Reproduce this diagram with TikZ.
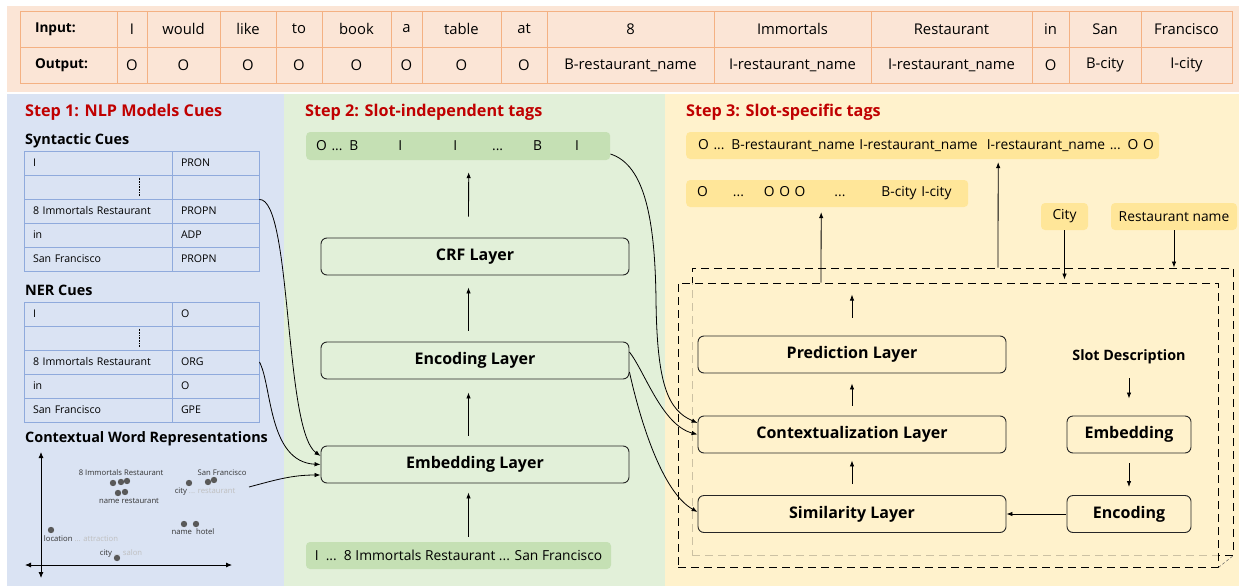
\documentclass[tikz,border=0pt]{standalone}
\usepackage{fontspec}
\setmainfont{Open Sans}
\usetikzlibrary{arrows.meta,positioning}
\definecolor{bandCol}{HTML}{FBE5D6}
\definecolor{bandLine}{HTML}{F4B183}
\definecolor{cueCol}{HTML}{DAE3F3}
\definecolor{cueLine}{HTML}{8FAADC}
\definecolor{indCol}{HTML}{E2F0D9}
\definecolor{indTag}{HTML}{C5E0B4}
\definecolor{specCol}{HTML}{FFF2CC}
\definecolor{specTag}{HTML}{FFE699}
\definecolor{stepRed}{HTML}{C00000}
\definecolor{dotCol}{HTML}{595959}
\definecolor{faintCol}{HTML}{BFBFBF}
\newcommand{\fsz}[1]{\fontsize{#1}{#1}\selectfont}
\tikzset{
  tcell/.style={draw=bandLine,line width=0.9pt,minimum height=36pt,inner sep=0pt,font=\fsz{14.8}},
  lcell/.style={draw=cueLine,line width=0.9pt,minimum height=24pt,text width=130pt,
                inner xsep=9pt,inner ysep=0pt,align=left,font=\fsz{10.6}},
  rcell/.style={lcell,text width=69pt},
  steptitle/.style={anchor=west,inner sep=0pt,text=stepRed,font=\bfseries\fsz{16.2}},
  cuetitle/.style={anchor=west,inner sep=0pt,font=\bfseries\fsz{14.4}},
  layer/.style={draw=black!85,line width=0.9pt,rounded corners=6pt,minimum width=308pt,
                minimum height=37pt,inner sep=0pt,font=\bfseries\fsz{16}},
  gtag/.style={fill=indTag,rounded corners=4pt,minimum height=28pt,inner sep=0pt,font=\fsz{13.8}},
  ytag/.style={gtag,fill=specTag,minimum height=27pt},
  flow/.style={-{Latex[length=6pt,width=4.5pt]},line width=0.8pt},
  cue/.style={-{Latex[length=6pt,width=4.5pt]},line width=0.8pt},
  axis/.style={{Latex[length=6pt,width=5pt]}-{Latex[length=6pt,width=5pt]},line width=0.8pt},
  wordlab/.style={inner sep=0pt,font=\fsz{7.7},text=black!80},
  wdot/.style={fill=dotCol},
  slotbox/.style={draw,dash pattern=on 8pt off 5pt,line width=0.9pt,inner sep=0pt},
}

\begin{document}
\begin{tikzpicture}[x=1pt,y=-1pt]
  \useasboundingbox (0,0) rectangle (1239,586);
  % background bands
  \fill[bandCol] (7,6) rectangle (1239,92);
  \fill[cueCol] (7,94) rectangle (284,586);
  \fill[indCol] (284,94) rectangle (665,586);
  \fill[specCol] (665,94) rectangle (1239,586);

  % sentence / gold tags
  \node[tcell,minimum width=97pt,text width=67pt,inner xsep=15pt,align=left,font=\bfseries\fsz{13.6}] (inlab) at (68.5,29) {Input:};
  \node[tcell,minimum width=97pt,text width=67pt,inner xsep=15pt,align=left,font=\bfseries\fsz{13.6}] (outlab) at (68.5,65) {Output:};
  \foreach \xa/\xb/\win/\wout [count=\c] in {117/147/I/O, 147/220/would/O, 220/276/like/O,
      276/322/to/O, 322/391/book/O, 391/422/a/O, 422/501/table/O, 501/547/at/O,
      547/714/8/B-restaurant\_name, 714/871/Immortals/I-restaurant\_name,
      871/1032/Restaurant/I-restaurant\_name, 1032/1069/in/O, 1069/1141/San/B-city,
      1141/1232/Francisco/I-city}{
    \pgfmathsetmacro\cw{\xb-\xa}
    \node[tcell,minimum width=\cw pt] (in\c) at ({(\xa+\xb)/2},29) {\win};
    \node[tcell,minimum width=\cw pt] (out\c) at ({(\xa+\xb)/2},65) {\wout};
  }

  % step 1
  \node[steptitle] (t1) at (25,112) {Step 1: NLP Models Cues};
  \node[cuetitle] (syntitle) at (25,141) {Syntactic Cues};
  \foreach \lt/\rt [count=\r] in {I/PRON, \relax/\relax, 8 Immortals Restaurant/PROPN, in/ADP, San Francisco/PROPN}{
    \pgfmathsetmacro\ry{139+24*\r}
    \node[lcell] (synl\r) at (98,\ry) {\lt};
    \node[rcell] (synr\r) at (215.5,\ry) {\rt};
  }
  \draw[densely dotted,line width=0.6pt] ([xshift=41pt,yshift=-3pt]synl2.north) -- ([xshift=41pt,yshift=3pt]synl2.south);

  \node[cuetitle] (nertitle) at (25,290) {NER Cues};
  \foreach \lt/\rt [count=\r] in {I/O, \relax/\relax, 8 Immortals Restaurant/ORG, in/O, San Francisco/GPE}{
    \pgfmathsetmacro\ry{290+24*\r}
    \node[lcell] (nerl\r) at (98,\ry) {\lt};
    \node[rcell] (nerr\r) at (215.5,\ry) {\rt};
  }
  \draw[densely dotted,line width=0.6pt] ([xshift=41pt,yshift=-3pt]nerl2.north) -- ([xshift=41pt,yshift=3pt]nerl2.south);

  % word space
  \node[cuetitle] (ctxtitle) at (25,439) {Contextual Word Representations};
  \coordinate (ytop) at (41,452);
  \coordinate (ybot) at (41,578);
  \coordinate (xlft) at (25,565);
  \coordinate (xrgt) at (232,565);
  \draw[axis] (ybot) -- (ytop);
  \draw[axis] (xlft) -- (xrgt);
  \foreach \p in {(113,483),(121,482),(127,481),(118,493),(125,492),(189,483),(208,482),
                  (214,480),(184,524),(196,524),(51,530),(117,558)}
    \fill[wdot] \p circle (3.2);
  \node[wordlab] (w1) at (121,473) {8 Immortals Restaurant};
  \node[wordlab] (w2) at (129,501) {name restaurant};
  \node[wordlab] (w3) at (222,473) {San Francisco};
  \node[wordlab] (w4) at (205,492) {city \textcolor{faintCol}{... restaurant}};
  \node[wordlab] (w5) at (193,532) {name\ \ hotel};
  \node[wordlab] (w6) at (81,539) {location \textcolor{faintCol}{... attraction}};
  \node[wordlab] (w7) at (121,553) {city \textcolor{faintCol}{... salon}};
  \coordinate (scat) at (249,487);

  % step 2
  \node[steptitle] (t2) at (305,112) {Step 2: Slot-independent tags};
  \node[gtag,anchor=west,text width=284pt,inner xsep=10pt,align=left] (indtags) at (306,146)
    {O ... B\hspace{40pt}I\hspace{51pt}I\hspace{35pt}...\hspace{30pt}B\hspace{33pt}I};
  \node[layer] (crf) at (475,256.5) {CRF Layer};
  \node[layer] (enc) at (475,360.5) {Encoding Layer};
  \node[layer] (emb) at (475,464.5) {Embedding Layer};
  \node[gtag,minimum width=305pt,minimum height=27pt] (words) at (458.5,555.5)
    {I\ \ ...\ \ 8 Immortals Restaurant ... San Francisco};
  \draw[flow,shorten <=5pt,shorten >=9pt] ([xshift=10pt]words.north) -- ([xshift=-6.5pt]emb.south);
  \draw[flow,shorten <=10pt,shorten >=13pt] ([xshift=-6.5pt]emb.north) -- ([xshift=-6.5pt]enc.south);
  \draw[flow,shorten <=11pt,shorten >=12pt] ([xshift=-6.5pt]enc.north) -- ([xshift=-6.5pt]crf.south);
  \draw[flow,shorten <=21pt,shorten >=12pt] ([xshift=-6.5pt]crf.north) -- ([xshift=10.5pt]indtags.south);

  % cues into the embedding layer
  \draw[cue] (synr2.south east) .. controls (292,199) and (284,430) .. ([yshift=8.5pt]emb.west);
  \draw[cue] (nerr3.east) .. controls (272,385) and (268,462) .. (emb.west);
  \draw[cue] (scat) to[out=15,in=180] ([yshift=-10.5pt]emb.west);

  % step 3
  \node[steptitle] (t3) at (686,112) {Step 3: Slot-specific tags};
  \node[ytag,anchor=west,text width=449pt,inner xsep=12pt,align=left] (resttags) at (686,145.5)
    {\mbox{O ... B-restaurant\_name I-restaurant\_name\ \ I-restaurant\_name ... O O}};
  \node[ytag,anchor=west,text width=260pt,inner xsep=11pt,align=left] (citytags) at (686,193.5)
    {O\hspace{25pt}...\hspace{20pt}O O O\hspace{29pt}...\hspace{36pt}B-city I-city};
  \node[ytag,minimum width=47pt] (slotcity) at (1064.5,216.5) {City};
  \node[ytag,minimum width=126pt] (slotrest) at (1174,216.5) {Restaurant name};

  \node[slotbox,minimum width=541pt,minimum height=287pt] (stackback) at (962.5,411.5) {};
  \node[slotbox,fill=specCol,fill opacity=0.8,minimum width=540pt,minimum height=284pt] (stackfront) at (948,425) {};
  \draw[line width=0.5pt,densely dashed,black!60] (stackfront.south east) -- (stackback.south east);

  \node[layer] (pred) at (852,354.5) {Prediction Layer};
  \node[layer] (ctx) at (852,434.5) {Contextualization Layer};
  \node[layer] (sim) at (852,514) {Similarity Layer};
  \node[inner sep=0pt,font=\bfseries\fsz{14.3}] (slotdesc) at (1129,357) {Slot Description};
  \node[layer,minimum width=124pt] (sdemb) at (1129,434.5) {Embedding};
  \node[layer,minimum width=124pt] (sdenc) at (1129,514) {Encoding};

  \draw[flow,shorten <=11pt,shorten >=7pt] (sim.north) -- (ctx.south);
  \draw[flow,shorten <=10pt,shorten >=10pt] (ctx.north) -- (pred.south);
  \draw[flow,shorten <=18pt,shorten >=12pt] (pred.north) -- (pred.north |- stackfront.north);
  \draw[flow,shorten <=14pt,shorten >=17pt] (slotdesc.south) -- (sdemb.north);
  \draw[flow,shorten <=10pt,shorten >=8pt] (sdemb.south) -- (sdenc.north);
  \draw[flow,shorten <=1pt] (sdenc.west) -- (sim.east);
  \draw[flow,shorten >=5pt] ([xshift=-127pt]stackfront.north) -- ([xshift=-6pt]citytags.south);
  \draw[flow,shorten >=3pt] ([xshift=35.5pt]stackback.north) -- ([xshift=75.5pt]resttags.south);
  \draw[flow,shorten >=3pt] (slotcity.south) -- (slotcity.south |- stackfront.north);
  \draw[flow] (slotrest.south) -- (slotrest.south |- stackback.north);

  % slot-independent features into step 3
  \draw[cue] ([yshift=-8pt]indtags.east) .. controls (645,165) and (655,220) .. (656,300)
    .. controls (657,385) and (668,410) .. ([yshift=11.5pt]ctx.west);
  \draw[cue] ([yshift=8.5pt]enc.east) .. controls (645,372) and (662,425) .. (ctx.west);
  \draw[cue] ([yshift=-11.5pt]enc.east) .. controls (640,420) and (662,492) .. ([yshift=2pt]sim.west);
\end{tikzpicture}
\end{document}
